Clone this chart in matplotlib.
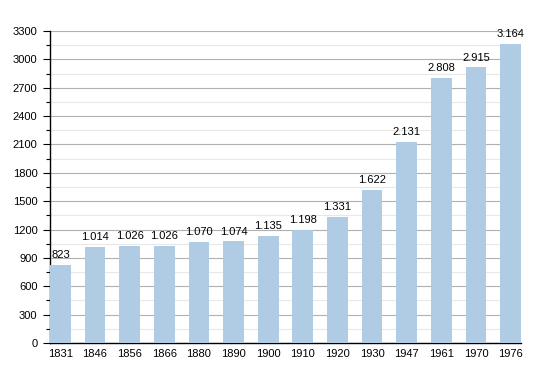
import matplotlib.pyplot as plt
from matplotlib.ticker import MultipleLocator

# Data
years = ["1831", "1846", "1856", "1866", "1880", "1890", "1900",
         "1910", "1920", "1930", "1947", "1961", "1970", "1976"]
population = [823, 1014, 1026, 1026, 1070, 1074, 1135,
              1198, 1331, 1622, 2131, 2808, 2915, 3164]

plt.rcParams['font.family'] = ['Liberation Sans', 'DejaVu Sans']

fig = plt.figure(figsize=(5.5, 3.73), dpi=100)
ax = fig.add_axes([50 / 550, 30 / 373, 471 / 550, 312 / 373])

x = list(range(len(years)))
bars = ax.bar(x, population, width=0.6, color="#b0cbe4", zorder=3)

for xi, val in zip(x, population):
    label = f"{val:,}".replace(",", ".")
    ax.text(xi, val + 50, label, ha='center', va='bottom', fontsize=8, zorder=4)

ax.set_xlim(-0.3, len(years) - 0.7)
ax.set_ylim(0, 3300)
ax.set_xticks(x)
ax.set_xticklabels(years)

ax.yaxis.set_major_locator(MultipleLocator(300))
ax.yaxis.set_minor_locator(MultipleLocator(150))
ax.grid(axis='y', which='major', color='#b0b0b0', linewidth=0.8, zorder=0)
ax.grid(axis='y', which='minor', color='#e8e8e8', linewidth=0.8, zorder=0)

ax.tick_params(axis='y', which='major', length=5, width=0.8, labelsize=8, pad=4)
ax.tick_params(axis='y', which='minor', length=3, width=0.8)
ax.tick_params(axis='x', length=0, labelsize=8, pad=4)

for side in ['top', 'right']:
    ax.spines[side].set_visible(False)
ax.spines['left'].set_linewidth(1)
ax.spines['bottom'].set_linewidth(1)

plt.savefig("out.png", dpi=100)
plt.close()
